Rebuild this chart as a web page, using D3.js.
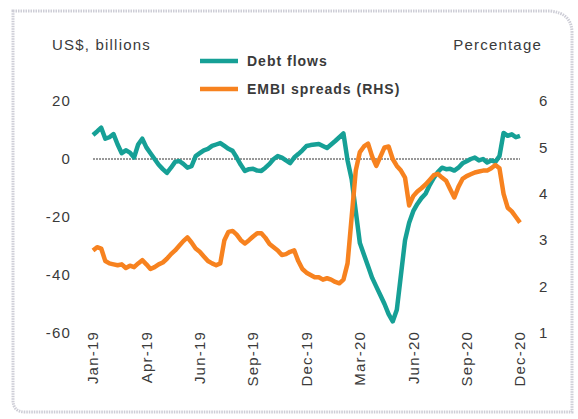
<!DOCTYPE html>
<html>
<head>
<meta charset="utf-8">
<script src="https://cdn.jsdelivr.net/npm/d3@7"></script>
<style>
  body { margin: 0; background: #fff; }
  svg text { font-family: "Liberation Sans", Arial, sans-serif; fill: #3a3a3a; letter-spacing: 1.2px; }
</style>
</head>
<body>
<svg id="chart" width="578" height="419"></svg>
<script>
// weekly observations, Jan-19 .. Dec-20
var debtFlows = [8.3, 9.5, 10.8, 7, 7.5, 8.6, 5, 2, 3, 2.2,
  0.5, 5, 7, 4, 2, 0, -2, -3.5, -4.8, -3,
  -1, -0.7, -1.7, -3, -2.5, 1, 2, 3, 3.5, 4.5,
  5, 5.5, 4.5, 3.5, 2.8, 0.5, -2, -4.1, -3.5, -3.4,
  -4, -4.1, -3, -1.7, 0, 1, 0.5, -0.5, -1.4, 0.5,
  1.7, 3, 4.5, 4.8, 5, 5.2, 4.5, 3.8, 5, 6.2,
  7.5, 8.8, -0.5, -7, -18, -29, -33, -37, -41, -44,
  -47, -50, -53.5, -56, -52, -40, -28, -22, -18, -15.5,
  -13.5, -12, -9, -6.5, -4.5, -3, -3.5, -3.4, -4, -3,
  -1.5, -0.8, 0, 0.5, -0.5, 0, -1.2, -0.5, -1, 1,
  9, 8, 8.5, 7.5, 8];

var embiSpreads = [2.78, 2.85, 2.82, 2.55, 2.5, 2.48, 2.46, 2.48, 2.4, 2.45,
  2.42, 2.5, 2.57, 2.48, 2.38, 2.42, 2.48, 2.52, 2.6, 2.7,
  2.78, 2.88, 2.98, 3.06, 2.95, 2.82, 2.75, 2.65, 2.55, 2.5,
  2.46, 2.5, 3.0, 3.18, 3.2, 3.12, 3.0, 2.93, 3.0, 3.08,
  3.15, 3.15, 3.05, 2.92, 2.85, 2.78, 2.68, 2.7, 2.75, 2.78,
  2.55, 2.38, 2.3, 2.25, 2.2, 2.2, 2.15, 2.18, 2.15, 2.1,
  2.07, 2.15, 2.5, 3.5, 4.5, 4.9, 5.02, 5.08, 4.8, 4.6,
  4.8, 5.0, 5.02, 4.75, 4.6, 4.5, 4.35, 3.75, 3.95, 4.05,
  4.12, 4.2, 4.3, 4.4, 4.43, 4.35, 4.28, 4.1, 3.92, 4.15,
  4.32, 4.38, 4.42, 4.46, 4.48, 4.5, 4.5, 4.55, 4.62, 4.55,
  4.0, 3.7, 3.62, 3.5, 3.38];

var tickLabels = ["Jan-19", "Apr-19", "Jun-19", "Sep-19", "Dec-19", "Mar-20", "Jun-20", "Sep-20", "Dec-20"];
var tickWeeks = [0, 13, 26, 39, 52, 65, 78, 91, 104];
var leftTicks = [20, 0, -20, -40, -60];
var rightTicks = [6, 5, 4, 3, 2, 1];

var svg = d3.select("#chart");

var x = d3.scaleLinear().domain([0, debtFlows.length - 1]).range([93, 520]);
var yLeft = d3.scaleLinear().domain([-60, 20]).range([333, 101]);
var yRight = d3.scaleLinear().domain([1, 6]).range([333, 101]);

var teal = "#16a096", orange = "#f7821f";

// frame
svg.append("path")
  .attr("d", "M13,11 L550,11 Q572,13 572,33 L572,412 L25,412 Q13,412 13,400 Z")
  .attr("fill", "none")
  .attr("stroke", "#cdcdd6")
  .attr("stroke-width", 3)
  .attr("stroke-dasharray", "1.5 1");

// axis titles
svg.append("text").attr("x", 52).attr("y", 50).style("font-size", "15px").text("US$, billions");
svg.append("text").attr("x", 542).attr("y", 50).attr("text-anchor", "end").style("font-size", "15px").text("Percentage");

// tick labels
svg.selectAll(".lt").data(leftTicks).enter().append("text")
  .attr("x", 71).attr("y", d => yLeft(d)).attr("dy", "0.35em")
  .attr("text-anchor", "end").style("font-size", "15px")
  .text(d => d);

svg.selectAll(".rt").data(rightTicks).enter().append("text")
  .attr("x", 539).attr("y", d => yRight(d)).attr("dy", "0.35em")
  .style("font-size", "15px")
  .text(d => d);

svg.selectAll(".xt").data(tickWeeks).enter().append("text")
  .attr("transform", d => "translate(" + x(d) + ",331) rotate(-90)")
  .attr("dy", "0.35em").attr("text-anchor", "end")
  .style("font-size", "15px")
  .text((d, i) => tickLabels[i]);

// zero line
svg.append("line")
  .attr("x1", x(0)).attr("x2", x(debtFlows.length - 1))
  .attr("y1", yLeft(0)).attr("y2", yLeft(0))
  .attr("stroke", "#333").attr("stroke-width", 1)
  .attr("stroke-dasharray", "2 1");

var lineLeft = d3.line().x((d, i) => x(i)).y(d => yLeft(d));
var lineRight = d3.line().x((d, i) => x(i)).y(d => yRight(d));

svg.append("path").datum(debtFlows)
  .attr("d", lineLeft)
  .attr("fill", "none").attr("stroke", teal)
  .attr("stroke-width", 4.5).attr("stroke-linejoin", "round");

svg.append("path").datum(embiSpreads)
  .attr("d", lineRight)
  .attr("fill", "none").attr("stroke", orange)
  .attr("stroke-width", 4.5).attr("stroke-linejoin", "round");

// legend
var legend = [{name: "Debt flows", color: teal}, {name: "EMBI spreads (RHS)", color: orange}];
var lg = svg.selectAll(".lg").data(legend).enter().append("g")
  .attr("transform", (d, i) => "translate(200," + (61 + i * 28) + ")");
lg.append("line").attr("x1", 0).attr("x2", 38)
  .attr("stroke", d => d.color).attr("stroke-width", 4.5);
lg.append("text").attr("x", 47).attr("dy", "0.35em")
  .style("font-size", "14px").style("font-weight", "bold").style("letter-spacing", "1px")
  .text(d => d.name);
</script>
</body>
</html>
